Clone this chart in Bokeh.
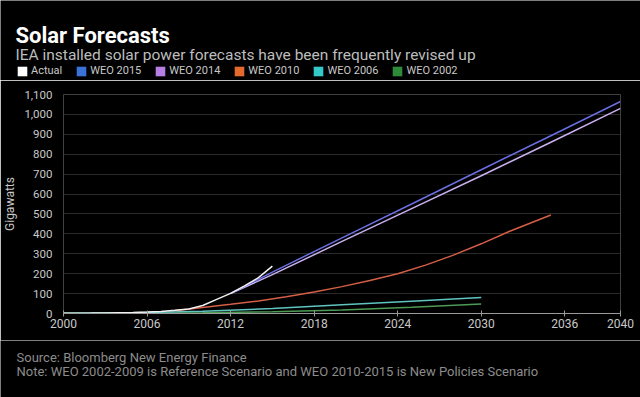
from bokeh.plotting import figure
from bokeh.layouts import column
from bokeh.models import (Label, Legend, LegendItem, FixedTicker,
                          NumeralTickFormatter, Range1d)
from bokeh.embed import file_html
from bokeh.resources import INLINE

# ---------------- data ----------------
actual_years = [2000, 2001, 2002, 2003, 2004, 2005, 2006, 2007, 2008, 2009,
                2010, 2011, 2012, 2013, 2014, 2015]
actual_gw = [1, 1.5, 2, 3, 4, 5, 7, 9.5, 16, 23, 40, 71, 101, 139, 180, 238]

weo2015_years = [2012, 2015, 2020, 2025, 2030, 2035, 2040]
weo2015_gw = [100, 208, 380, 550, 722, 893, 1065]

weo2014_years = [2012, 2015, 2020, 2025, 2030, 2035, 2040]
weo2014_gw = [100, 195, 362, 527, 692, 860, 1030]

weo2010_years = [2008, 2010, 2012, 2014, 2016, 2018, 2020, 2022, 2024,
                 2026, 2028, 2030, 2032, 2035]
weo2010_gw = [14, 30, 46, 63, 84, 108, 135, 166, 200, 243, 293, 350, 412, 495]

weo2006_years = [2000, 2005, 2010, 2015, 2020, 2025, 2030]
weo2006_gw = [1, 4, 11, 25, 44, 62, 80]

weo2002_years = [2000, 2005, 2010, 2015, 2020, 2025, 2030]
weo2002_gw = [1, 2, 4, 9, 18, 32, 48]

series_names = ["Actual", "WEO 2015", "WEO 2014", "WEO 2010", "WEO 2006", "WEO 2002"]
series_colors = ["#ffffff", "#3a72d8", "#b57fe3", "#e4692f", "#35c9c9", "#2e8b3a"]
line_colors = ["#f2f2f2", "#6a6ee0", "#c9b0ee", "#d45f46", "#5fc4c0", "#4d9a55"]

x_ticks = [2000, 2006, 2012, 2018, 2024, 2030, 2036, 2040]
y_ticks = [0, 100, 200, 300, 400, 500, 600, 700, 800, 900, 1000, 1100]

title_text = "Solar Forecasts"
subtitle_text = "IEA installed solar power forecasts have been frequently revised up"
source_text = "Source: Bloomberg New Energy Finance"
note_text = "Note: WEO 2002-2009 is Reference Scenario and WEO 2010-2015 is New Policies Scenario"

FONT = "Roboto"
TXT = "#c8c8c8"
BG = "black"
NAN = float("nan")


def blank(height, y0, y1):
    f = figure(width=640, height=height, output_backend="svg",
               toolbar_location=None, x_range=Range1d(0, 640),
               y_range=Range1d(y1, y0), x_axis_type=None, y_axis_type=None,
               background_fill_color=BG, border_fill_color=BG,
               outline_line_color=None, frame_align=False,
               min_border=0, min_border_left=0, min_border_right=0,
               min_border_top=0, min_border_bottom=0, title=None)
    f.grid.visible = False
    return f


# ---------------- header ----------------
head = blank(80, 0, 80)
head.add_layout(Label(x=15, y=35, text=title_text, text_color="white",
                      text_font=FONT, text_font_size="22px",
                      text_font_style="bold", text_baseline="alphabetic"))
head.add_layout(Label(x=15, y=54, text=subtitle_text, text_color="#bdbdbd",
                      text_font=FONT, text_font_size="15.5px",
                      text_baseline="alphabetic"))
items = []
for name, c in zip(series_names, series_colors):
    r = head.quad(left=[NAN], right=[NAN], top=[NAN], bottom=[NAN],
                  fill_color=c, line_color=None)
    items.append(LegendItem(label=name, renderers=[r]))
legend = Legend(items=items, orientation="horizontal", location=(16, 3),
                background_fill_alpha=0, border_line_color=None,
                label_text_color=TXT, label_text_font=FONT,
                label_text_font_size="11px", glyph_width=12, glyph_height=12,
                label_standoff=3, spacing=13, padding=0, margin=0,
                label_height=12)
head.add_layout(legend, "center")

# ---------------- main chart ----------------
p = figure(width=640, height=260, output_backend="svg", toolbar_location=None,
           x_range=Range1d(2000, 2040), y_range=Range1d(0, 1100),
           background_fill_color=BG, border_fill_color=BG,
           outline_line_color=None, frame_align=False,
           min_border_left=59, min_border_right=20, min_border_top=14,
           min_border_bottom=27, title=None)

data = [(weo2002_years, weo2002_gw, line_colors[5]),
        (weo2006_years, weo2006_gw, line_colors[4]),
        (weo2010_years, weo2010_gw, line_colors[3]),
        (weo2014_years, weo2014_gw, line_colors[2]),
        (weo2015_years, weo2015_gw, line_colors[1]),
        (actual_years, actual_gw, line_colors[0])]
for xs, ys, c in data:
    p.line(xs, ys, line_color=c, line_width=1.5)

p.xaxis.ticker = FixedTicker(ticks=x_ticks)
p.xaxis.axis_line_color = "#9a9a9a"
p.xaxis.major_tick_line_color = "#9a9a9a"
p.xaxis.major_tick_in = 3
p.xaxis.major_tick_out = 3
p.xaxis.minor_tick_line_color = None
p.xaxis.major_label_text_color = TXT
p.xaxis.major_label_text_font = FONT
p.xaxis.major_label_text_font_size = "12px"
p.xaxis.major_label_standoff = 2

p.yaxis.ticker = FixedTicker(ticks=y_ticks)
p.yaxis.formatter = NumeralTickFormatter(format="0,0")
p.yaxis.axis_line_color = None
p.yaxis.major_tick_line_color = None
p.yaxis.minor_tick_line_color = None
p.yaxis.major_label_text_color = TXT
p.yaxis.major_label_text_font = FONT
p.yaxis.major_label_text_font_size = "11.5px"
p.yaxis.major_label_standoff = 5
p.yaxis.axis_label = "Gigawatts"
p.yaxis.axis_label_text_color = TXT
p.yaxis.axis_label_text_font = FONT
p.yaxis.axis_label_text_font_size = "12px"
p.yaxis.axis_label_text_font_style = "normal"
p.yaxis.axis_label_standoff = 4

p.xgrid.grid_line_color = None
p.ygrid.ticker = FixedTicker(ticks=y_ticks)
p.ygrid.grid_line_color = "#2a2a2a"
p.ygrid.grid_line_width = 1

# ---------------- footer ----------------
foot = blank(57, 340, 397)
foot.add_layout(Label(x=16, y=357, text=source_text, text_color="#8c8c8c",
                      text_font=FONT, text_font_size="13px",
                      text_baseline="middle"))
foot.add_layout(Label(x=16, y=371, text=note_text, text_color="#8c8c8c",
                      text_font=FONT, text_font_size="13px",
                      text_baseline="middle"))

page = column(head, p, foot, spacing=0)
open("out.html", "w").write(file_html(page, INLINE))
